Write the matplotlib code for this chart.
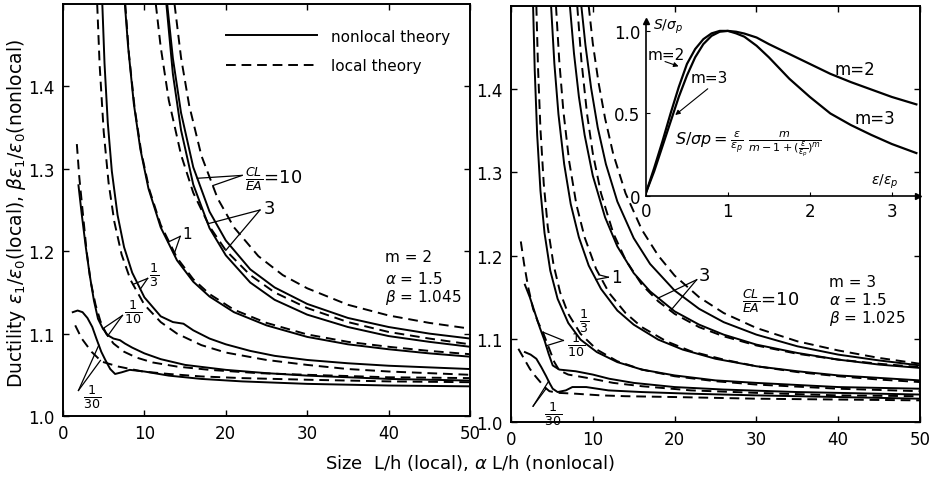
import numpy as np
import matplotlib
matplotlib.use("Agg")
import matplotlib.pyplot as plt

plt.rcParams['font.family'] = ['DejaVu Sans']
plt.rcParams['mathtext.fontset'] = 'dejavusans'

# ---------------- left panel (m = 2): nonlocal (solid) / local (dashed) ----------------
l10_nl_x = [12.8, 13.5, 14.5, 16, 18, 20, 23, 26, 30, 35, 40, 45, 50]
l10_nl_y = [1.500, 1.434, 1.368, 1.302, 1.248, 1.213, 1.178, 1.156, 1.136, 1.119, 1.108, 1.100, 1.094]
l10_lo_x = [13.7, 14.5, 15.5, 17, 19, 21, 24, 27, 30, 35, 40, 45, 50]
l10_lo_y = [1.500, 1.435, 1.377, 1.316, 1.264, 1.229, 1.194, 1.171, 1.155, 1.135, 1.122, 1.113, 1.106]
l3_nl_x = [12.7, 13.5, 14.5, 16, 18, 20, 23, 26, 30, 35, 40, 45, 50]
l3_nl_y = [1.500, 1.415, 1.347, 1.281, 1.228, 1.195, 1.162, 1.141, 1.123, 1.108, 1.097, 1.090, 1.084]
l3_lo_x = [11.4, 12, 13, 14.5, 16, 18, 20, 23, 26, 30, 35, 40, 45, 50]
l3_lo_y = [1.500, 1.448, 1.383, 1.317, 1.271, 1.230, 1.201, 1.171, 1.150, 1.131, 1.114, 1.102, 1.094, 1.087]
l1_nl_x = [7.6, 8, 8.7, 9.5, 10.5, 12, 14, 16, 18, 21, 25, 30, 35, 40, 45, 50]
l1_nl_y = [1.500, 1.448, 1.379, 1.324, 1.276, 1.229, 1.189, 1.163, 1.145, 1.126, 1.110, 1.096, 1.087, 1.081, 1.076, 1.072]
l1_lo_x = [7.65, 8.1, 8.8, 9.6, 10.6, 12, 14, 16, 18, 21, 25, 30, 35, 40, 45, 50]
l1_lo_y = [1.500, 1.439, 1.374, 1.321, 1.275, 1.232, 1.192, 1.166, 1.148, 1.129, 1.113, 1.099, 1.090, 1.084, 1.079, 1.075]
l13_nl_x = [4.83, 5.1, 5.5, 6, 6.7, 7.5, 8.5, 10, 12, 13.5, 14.8, 16, 18, 20, 23, 26, 30, 35, 40, 45, 50]
l13_nl_y = [1.500, 1.428, 1.356, 1.297, 1.244, 1.205, 1.174, 1.144, 1.121, 1.114, 1.112, 1.104, 1.094, 1.087, 1.079, 1.073, 1.068, 1.064, 1.061, 1.059, 1.057]
l13_lo_x = [4.2, 4.5, 5, 5.6, 6.3, 7.2, 8.3, 10, 12, 14, 17, 20, 25, 30, 35, 40, 45, 50]
l13_lo_y = [1.500, 1.426, 1.345, 1.283, 1.236, 1.196, 1.165, 1.135, 1.114, 1.100, 1.086, 1.077, 1.068, 1.062, 1.057, 1.054, 1.052, 1.050]
l110_nl_x = [1.9, 2.3, 2.8, 3.3, 3.8, 4.3, 4.9, 5.5, 6.2, 7.0, 7.6, 8.5, 10, 12, 15, 20, 25, 30, 40, 50]
l110_nl_y = [1.280, 1.245, 1.205, 1.170, 1.140, 1.118, 1.106, 1.098, 1.094, 1.092, 1.088, 1.083, 1.076, 1.069, 1.062, 1.056, 1.052, 1.049, 1.045, 1.043]
l110_lo_x = [1.7, 2.0, 2.4, 2.9, 3.4, 4.0, 4.6, 5.3, 6.2, 7.5, 9, 11, 14, 18, 24, 30, 40, 50]
l110_lo_y = [1.330, 1.290, 1.250, 1.200, 1.163, 1.135, 1.115, 1.100, 1.088, 1.078, 1.071, 1.065, 1.060, 1.056, 1.052, 1.050, 1.047, 1.046]
l130_nl_x = [1.2, 1.8, 2.4, 3.0, 3.6, 4.1, 4.7, 5.2, 5.8, 6.4, 7.2, 8.2, 10, 13, 17, 22, 30, 40, 50]
l130_nl_y = [1.126, 1.128, 1.126, 1.119, 1.108, 1.094, 1.078, 1.068, 1.057, 1.051, 1.053, 1.056, 1.054, 1.049, 1.045, 1.042, 1.039, 1.037, 1.036]
l130_lo_x = [1.5, 2.3, 3.5, 4.75, 6.8, 9.8, 13, 17, 22, 30, 40, 50]
l130_lo_y = [1.110, 1.094, 1.078, 1.066, 1.060, 1.054, 1.051, 1.048, 1.046, 1.044, 1.042, 1.041]

# ---------------- right panel (m = 3) ----------------
r10_nl_x = [8.6, 9.1, 9.8, 10.6, 11.6, 13, 15, 17, 20, 23, 26, 30, 35, 40, 45, 50]
r10_nl_y = [1.500, 1.453, 1.401, 1.354, 1.310, 1.265, 1.221, 1.190, 1.158, 1.136, 1.120, 1.105, 1.091, 1.081, 1.074, 1.068]
r10_lo_x = [9.5, 10, 10.7, 11.5, 12.5, 14, 16, 18, 20, 23, 26, 30, 35, 40, 45, 50]
r10_lo_y = [1.500, 1.455, 1.408, 1.365, 1.322, 1.275, 1.231, 1.200, 1.176, 1.150, 1.131, 1.113, 1.097, 1.086, 1.077, 1.070]
r3_nl_x = [7.2, 7.7, 8.3, 9, 10, 11.5, 13, 15, 17, 20, 23, 26, 30, 35, 40, 45, 50]
r3_nl_y = [1.500, 1.443, 1.391, 1.345, 1.296, 1.246, 1.211, 1.179, 1.157, 1.133, 1.117, 1.105, 1.093, 1.083, 1.075, 1.069, 1.065]
r3_lo_x = [8.1, 8.6, 9.3, 10, 11, 12.5, 14, 16, 18, 20, 23, 26, 30, 35, 40, 45, 50]
r3_lo_y = [1.500, 1.435, 1.370, 1.323, 1.275, 1.227, 1.195, 1.165, 1.145, 1.130, 1.114, 1.103, 1.092, 1.082, 1.075, 1.070, 1.066]
r1_nl_x = [4.9, 5.3, 5.8, 6.5, 7.3, 8.3, 9.5, 11, 13, 15, 18, 21, 25, 30, 35, 40, 45, 50]
r1_nl_y = [1.500, 1.431, 1.370, 1.310, 1.262, 1.222, 1.188, 1.160, 1.134, 1.117, 1.099, 1.087, 1.076, 1.067, 1.061, 1.056, 1.053, 1.050]
r1_lo_x = [5.5, 5.9, 6.4, 7.1, 8, 9, 10.4, 12, 14, 16, 19, 22, 26, 30, 35, 40, 45, 50]
r1_lo_y = [1.500, 1.434, 1.374, 1.314, 1.261, 1.222, 1.184, 1.155, 1.131, 1.114, 1.097, 1.085, 1.075, 1.067, 1.060, 1.055, 1.051, 1.048]
r13_nl_x = [2.7, 2.9, 3.2, 3.6, 4.1, 4.8, 5.7, 7, 8.5, 10.5, 13, 16, 20, 25, 30, 40, 50]
r13_nl_y = [1.500, 1.423, 1.345, 1.278, 1.227, 1.182, 1.148, 1.119, 1.099, 1.084, 1.072, 1.063, 1.056, 1.050, 1.047, 1.042, 1.040]
r13_lo_x = [3.1, 3.3, 3.6, 4.0, 4.5, 5.2, 6, 7, 8.5, 10.5, 13, 16, 20, 25, 30, 40, 50]
r13_lo_y = [1.500, 1.427, 1.352, 1.287, 1.234, 1.189, 1.156, 1.130, 1.106, 1.087, 1.073, 1.063, 1.055, 1.049, 1.045, 1.040, 1.037]
r110_nl_x = [1.7, 2.3, 2.9, 3.5, 4.1, 4.6, 5.1, 5.9, 7.9, 10, 12, 15, 20, 26, 35, 50]
r110_nl_y = [1.165, 1.150, 1.132, 1.114, 1.098, 1.082, 1.068, 1.063, 1.061, 1.057, 1.052, 1.047, 1.042, 1.039, 1.036, 1.033]
r110_lo_x = [1.2, 1.6, 2.1, 2.7, 3.3, 3.9, 4.6, 5.3, 5.9, 7, 9.9, 12.5, 16, 22, 30, 40, 50]
r110_lo_y = [1.217, 1.190, 1.162, 1.136, 1.120, 1.108, 1.090, 1.072, 1.062, 1.057, 1.052, 1.047, 1.043, 1.038, 1.035, 1.032, 1.031]
r130_nl_x = [1.7, 2.4, 3.1, 3.7, 4.3, 4.7, 5.1, 5.7, 6.7, 7.5, 9.2, 11.9, 16, 22, 30, 40, 50]
r130_nl_y = [1.084, 1.081, 1.076, 1.066, 1.055, 1.047, 1.040, 1.036, 1.038, 1.042, 1.042, 1.038, 1.036, 1.034, 1.032, 1.030, 1.028]
r130_lo_x = [0.9, 1.6, 2.3, 2.9, 3.5, 4.1, 4.7, 5.8, 7.9, 11, 14, 20, 30, 40, 50]
r130_lo_y = [1.088, 1.076, 1.064, 1.056, 1.049, 1.042, 1.037, 1.035, 1.034, 1.032, 1.031, 1.030, 1.028, 1.027, 1.026]

# ---------------- inset: stress-strain curves ----------------
inset_x = [0, 0.1, 0.2, 0.3, 0.4, 0.5, 0.6, 0.7, 0.8, 0.9, 1.0, 1.1, 1.2, 1.35, 1.5,
           1.75, 2.0, 2.25, 2.5, 2.75, 3.0, 3.3]
inset_m2 = [0.02, 0.17, 0.33, 0.50, 0.66, 0.80, 0.89, 0.95, 0.985, 1.0, 1.0, 0.995, 0.984,
            0.96, 0.92, 0.86, 0.80, 0.74, 0.69, 0.645, 0.60, 0.555]
inset_m3 = [0.02, 0.15, 0.30, 0.45, 0.60, 0.73, 0.84, 0.92, 0.97, 0.995, 1.0, 0.985, 0.965,
            0.91, 0.84, 0.71, 0.60, 0.50, 0.43, 0.37, 0.315, 0.26]

ytick_vals = [1.0, 1.1, 1.2, 1.3, 1.4]
ytick_labels = ["1.0", "1.1", "1.2", "1.3", "1.4"]
xtick_vals = [0, 10, 20, 30, 40, 50]

W, H = 934, 481
fig = plt.figure(figsize=(W / 100, H / 100), dpi=100)

LW = 1.4
DASH = (5, 3.0)


def setup(ax):
    ax.set_xlim(0, 50)
    ax.set_ylim(1.0, 1.5)
    ax.set_xticks(xtick_vals)
    ax.set_yticks(ytick_vals)
    ax.set_yticklabels(ytick_labels)
    ax.tick_params(direction='in', top=True, right=True, length=4, width=1,
                   labelsize=12, pad=6)
    for s in ax.spines.values():
        s.set_linewidth(1.4)


def curve(ax, x, y, dashed=False):
    if dashed:
        ln, = ax.plot(x, y, color='k', lw=LW, linestyle=(0, DASH))
    else:
        ln, = ax.plot(x, y, color='k', lw=LW)
    return ln


def leader(ax, origin, tips):
    ox, oy = origin
    for (xs, ys, xt) in tips:
        yt = float(np.interp(xt, xs, ys))
        ax.plot([ox, xt], [oy, yt], color='k', lw=0.9)


FR = 13  # fraction label size
PS = 11  # parameter block size

# ---------- left axes ----------
axL = fig.add_axes([63 / W, 1 - 417 / H, (470 - 63) / W, (417 - 5) / H])
setup(axL)
h_nl = curve(axL, l10_nl_x, l10_nl_y)
h_lo = curve(axL, l10_lo_x, l10_lo_y, True)
curve(axL, l3_nl_x, l3_nl_y)
curve(axL, l3_lo_x, l3_lo_y, True)
curve(axL, l1_nl_x, l1_nl_y)
curve(axL, l1_lo_x, l1_lo_y, True)
curve(axL, l13_nl_x, l13_nl_y)
curve(axL, l13_lo_x, l13_lo_y, True)
curve(axL, l110_nl_x, l110_nl_y)
curve(axL, l110_lo_x, l110_lo_y, True)
curve(axL, l130_nl_x, l130_nl_y)
curve(axL, l130_lo_x, l130_lo_y, True)

axL.legend([h_nl, h_lo], ["nonlocal theory", "local theory"], loc='upper left',
           bbox_to_anchor=(0.40, 0.94), frameon=False, handlelength=6.0,
           handletextpad=0.9, labelspacing=0.95, borderpad=0, borderaxespad=0,
           fontsize=11)

leader(axL, (22.0, 1.292), [(l10_nl_x, l10_nl_y, 16.5), (l10_lo_x, l10_lo_y, 18.4)])
axL.text(22.3, 1.289, r"$\frac{CL}{EA}$=10", fontsize=FR, ha='left', va='center')
leader(axL, (24.2, 1.250), [(l3_nl_x, l3_nl_y, 17.8), (l3_lo_x, l3_lo_y, 20.0)])
axL.text(24.6, 1.253, "3", fontsize=13, ha='left', va='center')
leader(axL, (14.4, 1.218), [(l1_nl_x, l1_nl_y, 12.9), (l1_lo_x, l1_lo_y, 13.7)])
axL.text(14.6, 1.222, "1", fontsize=11, ha='left', va='center')
leader(axL, (10.4, 1.167), [(l13_lo_x, l13_lo_y, 8.6), (l13_nl_x, l13_nl_y, 9.5)])
axL.text(10.6, 1.172, r"$\frac{1}{3}$", fontsize=FR, ha='left', va='center')
leader(axL, (7.3, 1.122), [(l110_nl_x, l110_nl_y, 4.9), (l110_lo_x, l110_lo_y, 5.5)])
axL.text(7.5, 1.127, r"$\frac{1}{10}$", fontsize=FR, ha='left', va='center')
leader(axL, (1.9, 1.031), [(l130_nl_x, l130_nl_y, 4.4), (l130_lo_x, l130_lo_y, 4.6)])
axL.text(2.4, 1.024, r"$\frac{1}{30}$", fontsize=FR, ha='left', va='center')
axL.text(39.5, 1.193, "m = 2", fontsize=PS, ha='left', va='center')
axL.text(39.5, 1.168, r"$\alpha$ = 1.5", fontsize=PS, ha='left', va='center')
axL.text(39.5, 1.145, r"$\beta$ = 1.045", fontsize=PS, ha='left', va='center')

# ---------- right axes ----------
axR = fig.add_axes([511 / W, 1 - 423 / H, (920 - 511) / W, (423 - 7) / H])
setup(axR)
curve(axR, r10_nl_x, r10_nl_y)
curve(axR, r10_lo_x, r10_lo_y, True)
curve(axR, r3_nl_x, r3_nl_y)
curve(axR, r3_lo_x, r3_lo_y, True)
curve(axR, r1_nl_x, r1_nl_y)
curve(axR, r1_lo_x, r1_lo_y, True)
curve(axR, r13_nl_x, r13_nl_y)
curve(axR, r13_lo_x, r13_lo_y, True)
curve(axR, r110_nl_x, r110_nl_y)
curve(axR, r110_lo_x, r110_lo_y, True)
curve(axR, r130_nl_x, r130_nl_y)
curve(axR, r130_lo_x, r130_lo_y, True)

leader(axR, (11.9, 1.174), [(r1_nl_x, r1_nl_y, 10.4), (r1_lo_x, r1_lo_y, 10.8)])
axR.text(12.2, 1.174, "1", fontsize=12, ha='left', va='center')
axR.text(8.3, 1.122, r"$\frac{1}{3}$", fontsize=FR, ha='left', va='center')
leader(axR, (6.4, 1.098), [(r110_nl_x, r110_nl_y, 4.3), (r110_lo_x, r110_lo_y, 3.9)])
axR.text(6.8, 1.094, r"$\frac{1}{10}$", fontsize=FR, ha='left', va='center')
leader(axR, (2.7, 1.019), [(r130_nl_x, r130_nl_y, 4.6), (r130_lo_x, r130_lo_y, 4.3)])
axR.text(4.0, 1.011, r"$\frac{1}{30}$", fontsize=FR, ha='left', va='center')
leader(axR, (22.7, 1.171), [(r3_nl_x, r3_nl_y, 18.0), (r3_lo_x, r3_lo_y, 19.5)])
axR.text(23.0, 1.177, "3", fontsize=13, ha='left', va='center')
axR.text(28.2, 1.146, r"$\frac{CL}{EA}$=10", fontsize=FR, ha='left', va='center')
axR.text(38.9, 1.169, "m = 3", fontsize=PS, ha='left', va='center')
axR.text(38.9, 1.148, r"$\alpha$ = 1.5", fontsize=PS, ha='left', va='center')
axR.text(38.9, 1.126, r"$\beta$ = 1.025", fontsize=PS, ha='left', va='center')

# ---------- inset ----------
axI = fig.add_axes([646 / W, 1 - 197 / H, (918 - 646) / W, (197 - 22) / H])
axI.set_facecolor('none')
axI.set_xlim(0, 3.32)
axI.set_ylim(0, 1.06)
axI.plot(inset_x, inset_m2, color='k', lw=1.6)
axI.plot(inset_x, inset_m3, color='k', lw=1.6)
for s in ['top', 'right']:
    axI.spines[s].set_visible(False)
for s in ['left', 'bottom']:
    axI.spines[s].set_linewidth(1.2)
axI.plot(1, 0, marker='>', color='k', ms=5, transform=axI.get_yaxis_transform(), clip_on=False)
axI.plot(0, 1, marker='^', color='k', ms=5, transform=axI.get_xaxis_transform(), clip_on=False)
axI.set_xticks([0, 1, 2, 3])
axI.set_yticks([0, 0.5, 1.0])
axI.set_xticklabels(["0", "1", "2", "3"])
axI.set_yticklabels(["0", "0.5", "1.0"])
axI.tick_params(direction='in', length=3, labelsize=12, pad=4)
axI.text(0.08, 1.03, r"$S/\sigma_p$", fontsize=10, ha='left', va='center')
axI.text(0.02, 0.86, "m=2", fontsize=11, ha='left', va='center')
axI.annotate("", xy=(0.43, 0.78), xytext=(0.2, 0.82),
             arrowprops=dict(arrowstyle='-|>', color='k', lw=0.8, mutation_scale=7))
axI.text(0.55, 0.72, "m=3", fontsize=11, ha='left', va='center')
axI.annotate("", xy=(0.33, 0.48), xytext=(0.78, 0.66),
             arrowprops=dict(arrowstyle='-|>', color='k', lw=0.8, mutation_scale=7))
axI.text(2.3, 0.77, "m=2", fontsize=12, ha='left', va='center')
axI.text(2.55, 0.47, "m=3", fontsize=12, ha='left', va='center')
axI.text(0.35, 0.32,
         r"$S/\sigma p = \frac{\epsilon}{\epsilon_p}\;\frac{m}{m-1+(\frac{\epsilon}{\epsilon_p})^m}$",
         fontsize=11.5, ha='left', va='center')
axI.text(2.75, 0.09, r"$\epsilon/\epsilon_p$", fontsize=10, ha='left', va='center')

# ---------- axis titles ----------
fig.text(0.503, 0.037, r"Size  L/h (local), $\alpha$ L/h (nonlocal)", ha='center',
         va='center', fontsize=13)
fig.text(0.018, 0.555,
         r"Ductility $\epsilon_1/\epsilon_0$(local), $\beta\epsilon_1/\epsilon_0$(nonlocal)",
         rotation=90, ha='center', va='center', fontsize=13.5)

fig.savefig("out.png", dpi=100)
